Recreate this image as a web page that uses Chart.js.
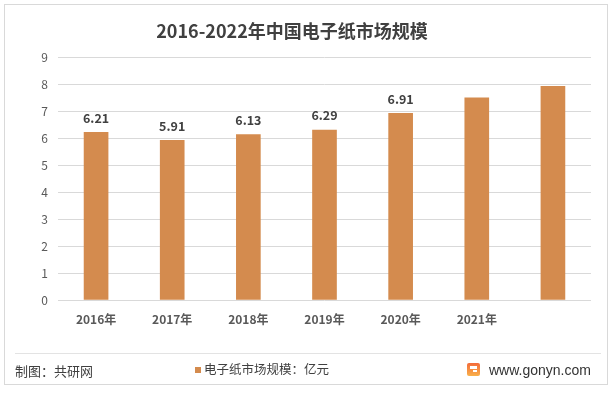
<!DOCTYPE html>
<html>
<head>
<meta charset="utf-8">
<script src="https://cdn.jsdelivr.net/npm/chart.js@4/dist/chart.umd.min.js"></script>
<style>
  html, body { margin: 0; padding: 0; background: #fff; }
  #wrap { position: relative; width: 616px; height: 393px; overflow: hidden; background: #fff;
          font-family: "Noto Sans CJK SC", "Noto Sans", sans-serif; }
  #frame { position: absolute; left: 4px; top: 4px; width: 602px; height: 379px; border: 1px solid #d9d9d9; }
  #c { position: absolute; left: 0; top: 0; }
  .t { position: absolute; white-space: nowrap; }
  #title { left: 0; width: 584px; top: 17px; text-align: center; font-size: 18px; font-weight: bold; color: #404040; line-height: 26px; }
  #sep { position: absolute; left: 15px; top: 353px; width: 586px; height: 1px; background: #e3e3e3; }
  #src { left: 15px; top: 361px; font-size: 13px; color: #404040; line-height: 20px; }
  #leg { left: 195px; top: 359px; font-size: 12.5px; color: #404040; line-height: 20px; }
  #leg i { display: inline-block; width: 6px; height: 6px; background: #D48B4E; margin-right: 3px; vertical-align: 1px; }
  #web { left: 489px; top: 360px; font-size: 14px; color: #333; line-height: 20px; font-family: "Liberation Sans", Arial, sans-serif; }
  #logo { position: absolute; left: 467px; top: 363px; width: 13px; height: 13px; border-radius: 2px;
          background: linear-gradient(180deg, #f36b3a, #f9b04a); }
  #logo b { position: absolute; left: 3px; top: 3px; width: 7px; height: 3px; background: #fff; }
  #logo u { position: absolute; left: 6px; top: 7px; width: 4px; height: 2px; background: #fff; }
</style>
</head>
<body>
<div id="wrap">
  <div id="frame"></div>
  <canvas id="c" width="616" height="393"></canvas>
  <div class="t" id="title">2016-2022年中国电子纸市场规模</div>
  <div id="sep"></div>
  <div class="t" id="src">制图：共研网</div>
  <div class="t" id="leg"><i></i>电子纸市场规模：亿元</div>
  <div id="logo"><b></b><u></u></div>
  <div class="t" id="web">www.gonyn.com</div>
</div>
<script>
const categories = ["2016年", "2017年", "2018年", "2019年", "2020年", "2021年", ""];
const marketSize = [6.21, 5.91, 6.13, 6.29, 6.91, 7.49, 7.91];
const labelShown = [true, true, true, true, true, false, false];
const yTicks = [0, 1, 2, 3, 4, 5, 6, 7, 8, 9];
const seriesName = "电子纸市场规模：亿元";

const FONT = '"Noto Sans CJK SC", "Noto Sans", sans-serif';

const valueLabels = {
  id: 'valueLabels',
  afterDatasetsDraw(chart) {
    const ctx = chart.ctx;
    const meta = chart.getDatasetMeta(0);
    ctx.save();
    ctx.font = 'bold 12.5px ' + FONT;
    ctx.fillStyle = '#404040';
    ctx.textAlign = 'center';
    ctx.textBaseline = 'middle';
    meta.data.forEach((bar, i) => {
      if (!labelShown[i]) return;
      ctx.fillText(marketSize[i].toFixed(2), bar.x, bar.y - 14.5);
    });
    ctx.restore();
  }
};

new Chart(document.getElementById('c'), {
  type: 'bar',
  data: {
    labels: categories,
    datasets: [{
      label: seriesName,
      data: marketSize,
      backgroundColor: '#D48B4E',
      barThickness: 24
    }]
  },
  options: {
    responsive: false,
    animation: false,
    layout: { padding: { top: 57, bottom: 63, left: 18, right: 25 } },
    plugins: { legend: { display: false }, title: { display: false }, tooltip: { enabled: false } },
    scales: {
      x: {
        grid: { display: false, drawTicks: false },
        border: { display: false },
        ticks: { color: '#595959', font: { family: FONT, size: 12, weight: 'bold' }, padding: 12, maxRotation: 0 },
        afterFit(s) { s.height = 30; }
      },
      y: {
        min: 0, max: 9,
        afterBuildTicks(s) { s.ticks = yTicks.map(v => ({ value: v })); },
        grid: { color: '#d9d9d9', lineWidth: 1, drawTicks: false },
        border: { display: false },
        ticks: { color: '#595959', font: { family: FONT, size: 12 }, padding: 10 },
        afterFit(s) { s.width = 40; }
      }
    }
  },
  plugins: [valueLabels]
});
</script>
</body>
</html>
